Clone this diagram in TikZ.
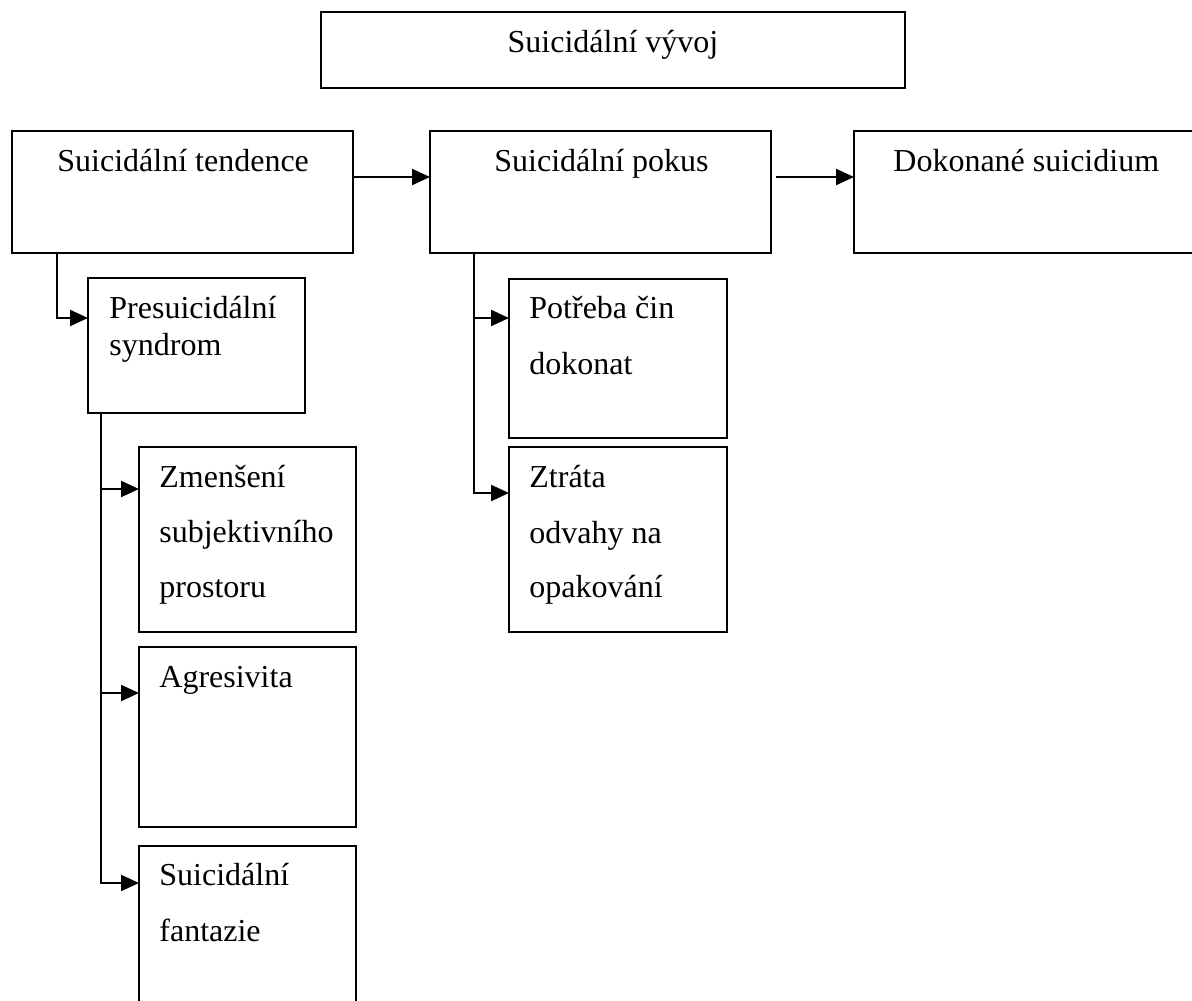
\documentclass[tikz,border=0pt]{standalone}
\usepackage{fontspec}
\setmainfont{Liberation Serif}
\usetikzlibrary{arrows.meta}

\begin{document}
\begin{tikzpicture}[x=0.5pt,y=-0.5pt,line join=miter,
    box/.style={draw,line width=1pt,rectangle,inner sep=0pt,outer sep=0pt,anchor=north west},
    txt/.style={anchor=base west,inner sep=0pt,font=\fontsize{16pt}{18pt}\selectfont},
    arr/.style={-{Triangle[length=9pt,width=8pt]},line width=1.1pt}]
\useasboundingbox (0,0) rectangle (1192,1000);
\clip (0,0) rectangle (1192,1000);
% main boxes
\node[box,minimum width=292pt,minimum height=38pt] (vyvoj) at (321,12) {};
\node[box,minimum width=170.5pt,minimum height=61pt] (tend) at (12,131) {};
\node[box,minimum width=170.5pt,minimum height=61pt] (pokus) at (430,131) {};
\node[box,minimum width=200pt,minimum height=61pt] (dok) at (854,131) {};
% sub boxes
\node[box,minimum width=108.5pt,minimum height=67.5pt] (pres) at (88,278) {};
\node[box,minimum width=108.5pt,minimum height=92.5pt] (zmen) at (139,447) {};
\node[box,minimum width=108.5pt,minimum height=90pt] (agr) at (139,647) {};
\node[box,minimum width=108.5pt,minimum height=100pt] (fant) at (139,846) {};
\node[box,minimum width=109pt,minimum height=79.5pt] (potr) at (509,279) {};
\node[box,minimum width=109pt,minimum height=92.5pt] (ztr) at (509,447) {};
% texts
\node[txt,anchor=base] (vyvojT) at (613,53) {Suicidální vývoj};
\node[txt] (tendT) at (57,172) {Suicidální tendence};
\node[txt] (pokusT) at (494,172) {Suicidální pokus};
\node[txt] (dokT) at (893,172) {Dokonané suicidium};
\node[txt] (presT1) at (109,318) {Presuicidální};
\node[txt] (presT2) at (109,355) {syndrom};
\node[txt] (zmenT1) at (159,487) {Zmenšení};
\node[txt] (zmenT2) at (159,542) {subjektivního};
\node[txt] (zmenT3) at (159,597) {prostoru};
\node[txt] (agrT) at (159,687) {Agresivita};
\node[txt] (fantT1) at (159,885) {Suicidální};
\node[txt] (fantT2) at (159,941) {fantazie};
\node[txt] (potrT1) at (529,318) {Potřeba čin};
\node[txt] (potrT2) at (529,374) {dokonat};
\node[txt] (ztrT1) at (529,487) {Ztráta};
\node[txt] (ztrT2) at (529,543) {odvahy na};
\node[txt] (ztrT3) at (529,597) {opakování};
% connectors
\draw[arr] ([yshift=-23pt]tend.north east) -- ([yshift=-23pt]pokus.north west);
\draw[arr] ([xshift=2.5pt,yshift=-23pt]pokus.north east) -- ([yshift=-23pt]dok.north west);
\draw[arr] ([xshift=22.5pt]tend.south west) |- ([yshift=-20pt]pres.north west);
\draw[arr] ([xshift=6.5pt]pres.south west) |- ([yshift=-21pt]zmen.north west);
\draw[arr] ([xshift=6.5pt]pres.south west) |- ([yshift=-23pt]agr.north west);
\draw[arr] ([xshift=6.5pt]pres.south west) |- ([yshift=-18.5pt]fant.north west);
\draw[arr] ([xshift=22pt]pokus.south west) |- ([yshift=-19.5pt]potr.north west);
\draw[arr] ([xshift=22pt]pokus.south west) |- ([yshift=-23pt]ztr.north west);
\end{tikzpicture}
\end{document}
